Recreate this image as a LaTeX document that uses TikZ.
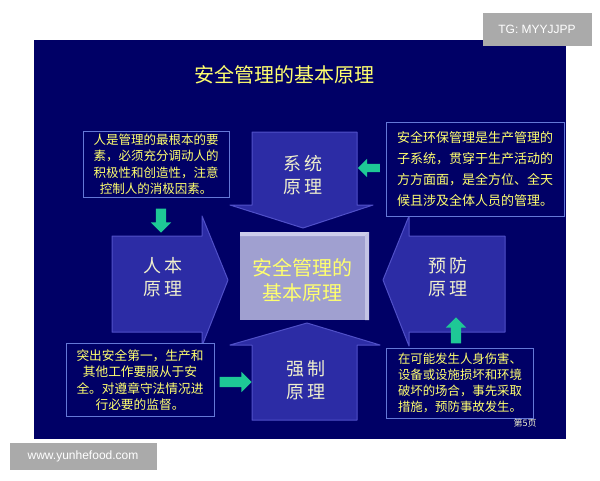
\documentclass[tikz,border=0pt]{standalone}
\usepackage{fontspec}
\setmainfont{Noto Sans CJK SC}
\newfontfamily\latinfont{Liberation Sans}
\usepackage{tikz}
\usetikzlibrary{shapes.arrows}
\definecolor{slideblue}{RGB}{0,0,102}
\definecolor{arrowblue}{RGB}{44,44,165}
\definecolor{arrowlight}{RGB}{80,80,200}
\definecolor{boxline}{RGB}{100,120,215}
\definecolor{noteyellow}{RGB}{255,255,110}
\definecolor{labelwhite}{RGB}{240,240,205}
\definecolor{pointerteal}{RGB}{30,200,150}
\definecolor{centerface}{RGB}{160,160,208}
\definecolor{centerlight}{RGB}{205,205,235}
\definecolor{tagfill}{RGB}{170,170,170}

\begin{document}
\begin{tikzpicture}[x=1pt,y=-1pt,
	bigarrow/.style={fill=arrowblue, draw=arrowlight, line width=1pt, line join=round},
	principle/.style={text=labelwhite, align=center, font=\fontsize{18}{23}\selectfont},
	notebox/.style={draw=boxline, line width=1pt, fill=slideblue, text=noteyellow, align=center, inner sep=0pt},
	pointer/.style={single arrow, fill=pointerteal, inner xsep=0pt, inner ysep=5pt, minimum width=20pt, single arrow head extend=5pt},
	tag/.style={fill=tagfill, text=white, font=\latinfont\fontsize{12}{14}\selectfont, inner sep=0pt}]

	%Canvas
	\useasboundingbox (0,0) rectangle (600,480);
	\fill[white] (0,0) rectangle (600,480);

	%Slide
	\fill[slideblue] (34,40) rectangle (566,439);

	%Title
	\node[text=noteyellow, font=\fontsize{20}{24}\selectfont] (title) at (284,75) {安全管理的基本原理};

	%Top arrow
	\draw[bigarrow] (252,132) -- (357,132) -- (357,205) -- (373,205) -- (303,228) -- (230,205) -- (252,205) -- cycle;
	\node[principle] (system) at (303,175) {系\hspace{3pt}统\\原\hspace{3pt}理};

	%Left arrow
	\draw[bigarrow] (112,236) -- (202,236) -- (202,216) -- (228,280) -- (202,346) -- (202,332) -- (112,332) -- cycle;
	\node[principle] (human) at (163,277) {人\hspace{3pt}本\\原\hspace{3pt}理};

	%Right arrow
	\draw[bigarrow] (505,236) -- (409,236) -- (409,216) -- (383,280) -- (409,346) -- (409,332) -- (505,332) -- cycle;
	\node[principle] (prevent) at (448,277) {预\hspace{3pt}防\\原\hspace{3pt}理};

	%Bottom arrow
	\draw[bigarrow] (252,420) -- (357,420) -- (357,345) -- (380,345) -- (307,323) -- (230,345) -- (252,345) -- cycle;
	\node[principle] (force) at (306,380) {强\hspace{3pt}制\\原\hspace{3pt}理};

	%Center block
	\fill[centerface] (240,232) rectangle (369,320);
	\fill[centerlight] (240,232) -- (369,232) -- (365,236) -- (240,236) -- cycle;
	\fill[centerlight!80!centerface] (369,232) -- (369,320) -- (365,320) -- (365,236) -- cycle;
	\node[text=noteyellow, align=center, font=\fontsize{20}{25}\selectfont] (core) at (302,280) {安全管理的\\基本原理};

	%Notes
	\node[notebox, minimum width=146pt, minimum height=66pt, font=\fontsize{12.5}{16.5}\selectfont] (humannote) at (156,164)
		{人是管理的最根本的要\\素，必须充分调动人的\\积极性和创造性，注意\\控制人的消极因素。};
	\node[notebox, minimum width=178pt, minimum height=94pt, font=\fontsize{13}{21}\selectfont] (systemnote) at (475,169)
		{安全环保管理是生产管理的\\子系统，贯穿于生产活动的\\方方面面，是全方位、全天\\候且涉及全体人员的管理。};
	\node[notebox, minimum width=148pt, minimum height=73pt, font=\fontsize{12.7}{16.5}\selectfont] (forcenote) at (140,380)
		{突出安全第一，生产和\\其他工作要服从于安\\全。对遵章守法情况进\\行必要的监督。};
	\node[notebox, minimum width=147pt, minimum height=70pt, font=\fontsize{12.4}{16}\selectfont] (preventnote) at (460,383)
		{在可能发生人身伤害、\\设备或设施损坏和环境\\破坏的场合，事先采取\\措施，预防事故发生。};

	%Pointers
	\node[pointer, rotate=-90, minimum height=24pt] (humanptr) at (161,218) {};
	\node[pointer, rotate=180, minimum height=22pt, inner ysep=4pt, minimum width=17pt] (systemptr) at (371,168) {};
	\node[pointer, minimum height=32pt] (forceptr) at (233,382) {};
	\node[pointer, rotate=90, minimum height=26pt] (preventptr) at (456,333) {};

	%Page number
	\node[text=labelwhite, font=\fontsize{9}{10}\selectfont] (page) at (525,423) {第5页};

	%Watermarks
	\node[tag, minimum width=109pt, minimum height=33pt] (tg) at (537,29) {TG: MYYJJPP};
	\node[tag, minimum width=147pt, minimum height=27pt] (www) at (83,456) {www.yunhefood.com};

\end{tikzpicture}
\end{document}
